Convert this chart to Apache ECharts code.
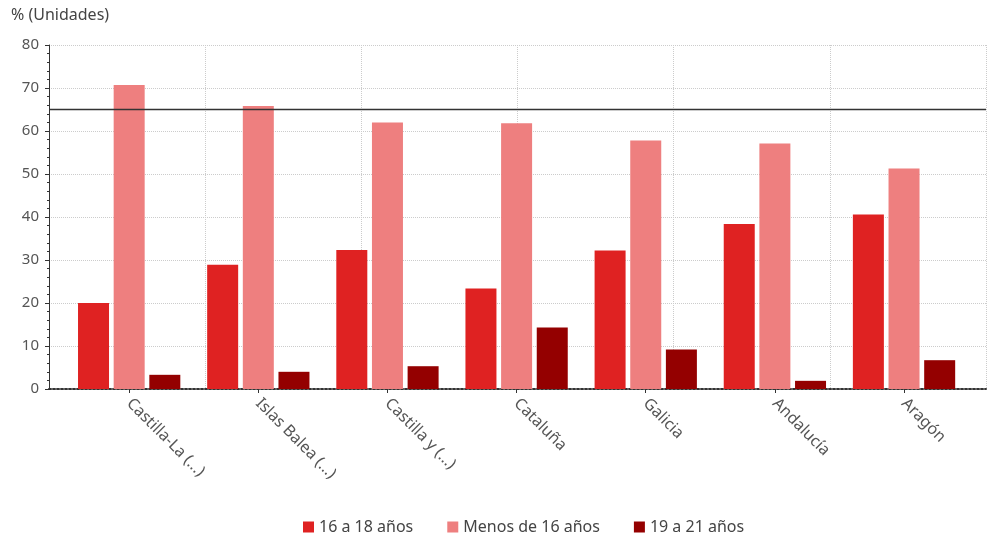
<!DOCTYPE html>
<html>
<head>
<meta charset="utf-8">
<script src="https://cdn.jsdelivr.net/npm/echarts@6/dist/echarts.min.js"></script>
<style>
  html, body { margin: 0; padding: 0; background: #fff; }
  #main { width: 991px; height: 544px; }
</style>
</head>
<body>
<div id="main"></div>
<script>
// datos
var regiones = ['Castilla-La (...)', 'Islas Balea (...)', 'Castilla y (...)', 'Cataluña', 'Galicia', 'Andalucía', 'Aragón'];
var de16a18 = [20.0, 28.9, 32.3, 23.4, 32.2, 38.4, 40.6];
var menosDe16 = [70.7, 65.8, 62.0, 61.8, 57.8, 57.1, 51.3];
var de19a21 = [3.3, 4.0, 5.3, 14.3, 9.2, 1.9, 6.7];
var lineaReferencia = 65;
var yTicks = [0, 10, 20, 30, 40, 50, 60, 70, 80];

var fuente = '"Noto Sans", "Open Sans", sans-serif';
var myChart = echarts.init(document.getElementById('main'));

var option = {
    animation: false,
    textStyle: { fontFamily: fuente },
    grid: [
        { left: 49, right: 5, top: 45, bottom: 155 },
        { left: 64.6, right: 22.4, top: 45, bottom: 155 }
    ],
    title: {
        text: '% (Unidades)',
        left: 6, top: 2,
        textStyle: { fontFamily: fuente, fontSize: 16, fontWeight: 'normal', color: '#444' }
    },
    legend: {
        bottom: 4,
        left: 298,
        itemWidth: 11,
        itemHeight: 11,
        itemGap: 34,
        icon: 'rect',
        textStyle: { fontFamily: fuente, fontSize: 16, color: '#444' },
        data: ['16 a 18 años', 'Menos de 16 años', '19 a 21 años']
    },
    xAxis: [
        {
            type: 'value', gridIndex: 0,
            min: 0, max: regiones.length - 1, interval: 1,
            axisLabel: { show: false },
            axisTick: { show: false },
            axisLine: { show: true, lineStyle: { color: '#333', type: 'dotted', width: 2 } },
            splitLine: { show: true, lineStyle: { color: '#ccc', type: 'dotted' } }
        },
        {
            type: 'category', gridIndex: 1,
            data: regiones,
            axisLine: { show: false },
            axisTick: { show: true, alignWithLabel: true, length: 4, lineStyle: { color: '#333' } },
            axisLabel: { rotate: -45, margin: 12, fontFamily: fuente, fontSize: 16, color: '#555' }
        }
    ],
    yAxis: [
        {
            type: 'value', gridIndex: 0,
            min: yTicks[0], max: yTicks[yTicks.length - 1], interval: 10,
            axisLine: { show: true, lineStyle: { color: '#333' } },
            axisTick: { show: true, length: 4, lineStyle: { color: '#333' } },
            minorTick: { show: true, splitNumber: 5, length: 2, lineStyle: { color: '#333' } },
            axisLabel: { fontFamily: fuente, fontSize: 15, color: '#555', margin: 10 },
            splitLine: { show: true, lineStyle: { color: '#ccc', type: 'dotted' } }
        },
        {
            type: 'value', gridIndex: 1,
            min: yTicks[0], max: yTicks[yTicks.length - 1],
            show: false
        }
    ],
    series: [
        {
            name: '16 a 18 años', type: 'bar',
            xAxisIndex: 1, yAxisIndex: 1,
            barWidth: 31, barGap: '15%',
            itemStyle: { color: '#df2222' },
            data: de16a18
        },
        {
            name: 'Menos de 16 años', type: 'bar',
            xAxisIndex: 1, yAxisIndex: 1,
            barWidth: 31, barGap: '15%',
            itemStyle: { color: '#ee7f7f' },
            data: menosDe16
        },
        {
            name: '19 a 21 años', type: 'bar',
            xAxisIndex: 1, yAxisIndex: 1,
            barWidth: 31, barGap: '15%',
            itemStyle: { color: '#940000' },
            data: de19a21
        },
        {
            name: 'referencia', type: 'line',
            xAxisIndex: 0, yAxisIndex: 0,
            symbol: 'none', silent: true,
            lineStyle: { color: '#333', width: 1.5 },
            data: [[0, lineaReferencia], [regiones.length - 1, lineaReferencia]],
            z: 5
        }
    ]
};
myChart.setOption(option);
</script>
</body>
</html>
